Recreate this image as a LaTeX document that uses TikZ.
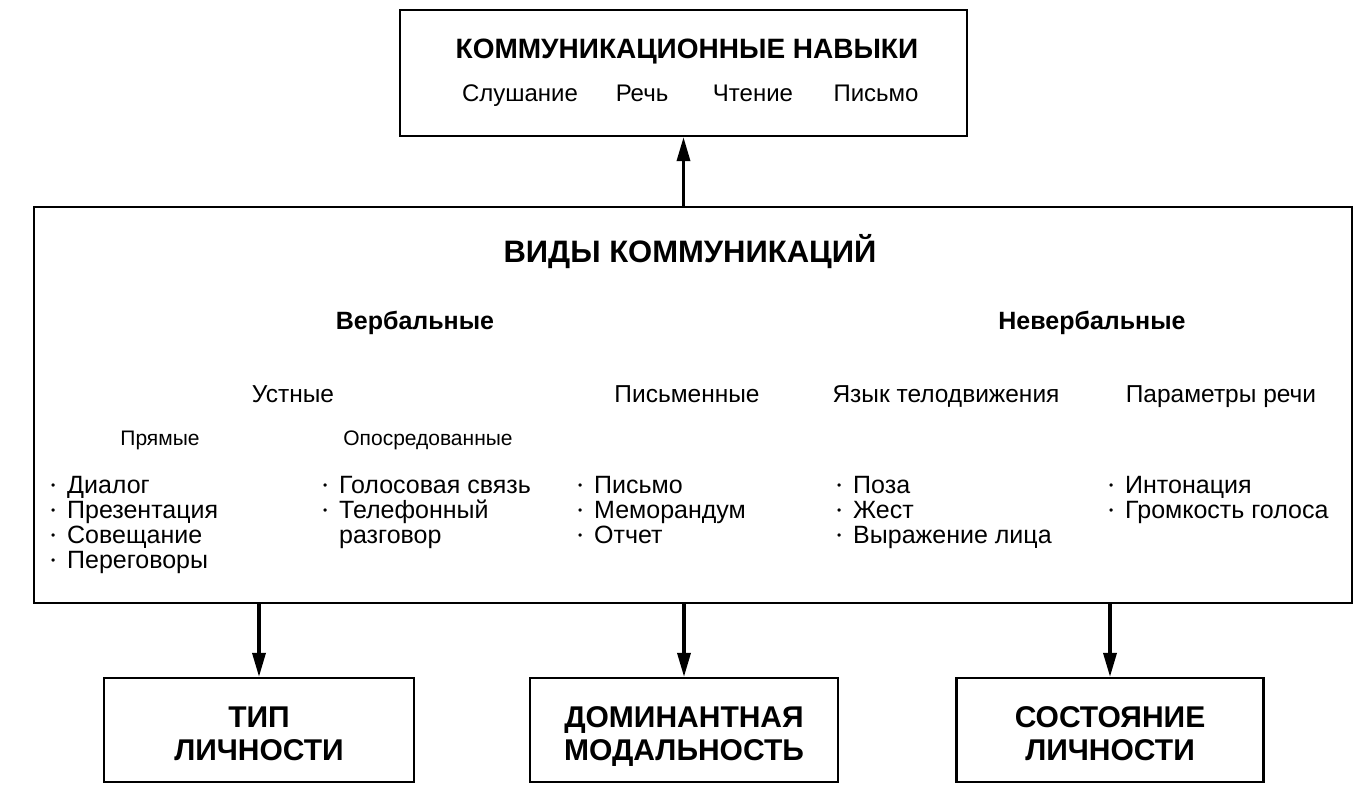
\documentclass[tikz,border=0pt]{standalone}
\usepackage{fontspec}
\setmainfont{Liberation Sans}
\usetikzlibrary{arrows.meta}
\begin{document}
\begin{tikzpicture}[x=1pt,y=-1pt,
  box/.style={draw,line width=2.2pt,inner sep=0pt},
  arr/.style={line width=3.4pt,-{Triangle[length=24pt,width=13pt]}},
  txt/.style={inner sep=0pt,anchor=base},
  head/.style={txt,font=\fontsize{28}{30}\selectfont\bfseries},
  head2/.style={txt,font=\fontsize{31}{33}\selectfont\bfseries},
  sub/.style={txt,font=\fontsize{24}{26}\selectfont},
  grp/.style={txt,font=\fontsize{25}{27}\selectfont\bfseries},
  cat/.style={txt,font=\fontsize{24.5}{26}\selectfont},
  small/.style={txt,font=\fontsize{21}{23}\selectfont},
  item/.style={inner sep=0pt,anchor=base west,font=\fontsize{25}{27}\selectfont},
  res/.style={txt,font=\fontsize{30}{31}\selectfont\bfseries}]
\useasboundingbox (0,0) rectangle (1366,800);
\newcommand{\itm}[1]{\makebox[16pt][l]{\fontsize{12}{12}\selectfont\raisebox{3.5pt}{•}}#1}
% boxes
\node[box,minimum width=567pt,minimum height=126pt] (top) at (683.5,73) {};
\node[box,minimum width=1318pt,minimum height=396pt] (main) at (693,405) {};
\node[box,minimum width=310pt,minimum height=104pt] (b1) at (259,730) {};
\node[box,minimum width=308pt,minimum height=104pt] (b2) at (684,730) {};
\node[box,minimum width=307pt,minimum height=104pt] (b3) at (1110,730) {};
% connectors
\draw[arr] (top.south |- main.north) -- (top.south);
\draw[arr] (b1.north |- main.south) -- (b1.north);
\draw[arr] (b2.north |- main.south) -- (b2.north);
\draw[arr] (b3.north |- main.south) -- (b3.north);
% top box text
\node[head] (tt) at (687,59) {КОММУНИКАЦИОННЫЕ НАВЫКИ};
\node[sub] (s1) at (520,101) {Слушание};
\node[sub] (s2) at (642,101) {Речь};
\node[sub] (s3) at (753,101) {Чтение};
\node[sub] (s4) at (876,101) {Письмо};
% main box text
\node[head2] (mt) at (690,262) {ВИДЫ КОММУНИКАЦИЙ};
\node[grp] (verb) at (415,329) {Вербальные};
\node[grp] (nverb) at (1092,329) {Невербальные};
\node[cat] (ust) at (293,402) {Устные};
\node[cat] (pis) at (687,402) {Письменные};
\node[cat] (yaz) at (946,402) {Язык телодвижения};
\node[cat] (par) at (1221,402) {Параметры речи};
\node[small] (pr) at (160,445) {Прямые};
\node[small] (op) at (428,445) {Опосредованные};
% items
\node[item] (a1) at (51,493) {\itm{Диалог}};
\node[item] (a2) at (51,518) {\itm{Презентация}};
\node[item] (a3) at (51,543) {\itm{Совещание}};
\node[item] (a4) at (51,568) {\itm{Переговоры}};
\node[item] (c1) at (323,493) {\itm{Голосовая связь}};
\node[item] (c2) at (323,518) {\itm{Телефонный}};
\node[item] (c3) at (339,543) {разговор};
\node[item] (d1) at (578,493) {\itm{Письмо}};
\node[item] (d2) at (578,518) {\itm{Меморандум}};
\node[item] (d3) at (578,543) {\itm{Отчет}};
\node[item] (e1) at (837,493) {\itm{Поза}};
\node[item] (e2) at (837,518) {\itm{Жест}};
\node[item] (e3) at (837,543) {\itm{Выражение лица}};
\node[item] (f1) at (1109,493) {\itm{Интонация}};
\node[item] (f2) at (1109,518) {\itm{Громкость голоса}};
% result boxes text
\node[res] (r1a) at (b1.center |- 0,727) {ТИП};
\node[res] (r1b) at (b1.center |- 0,760) {ЛИЧНОСТИ};
\node[res] (r2a) at (b2.center |- 0,727) {ДОМИНАНТНАЯ};
\node[res] (r2b) at (b2.center |- 0,760) {МОДАЛЬНОСТЬ};
\node[res] (r3a) at (b3.center |- 0,727) {СОСТОЯНИЕ};
\node[res] (r3b) at (b3.center |- 0,760) {ЛИЧНОСТИ};
\end{tikzpicture}
\end{document}
